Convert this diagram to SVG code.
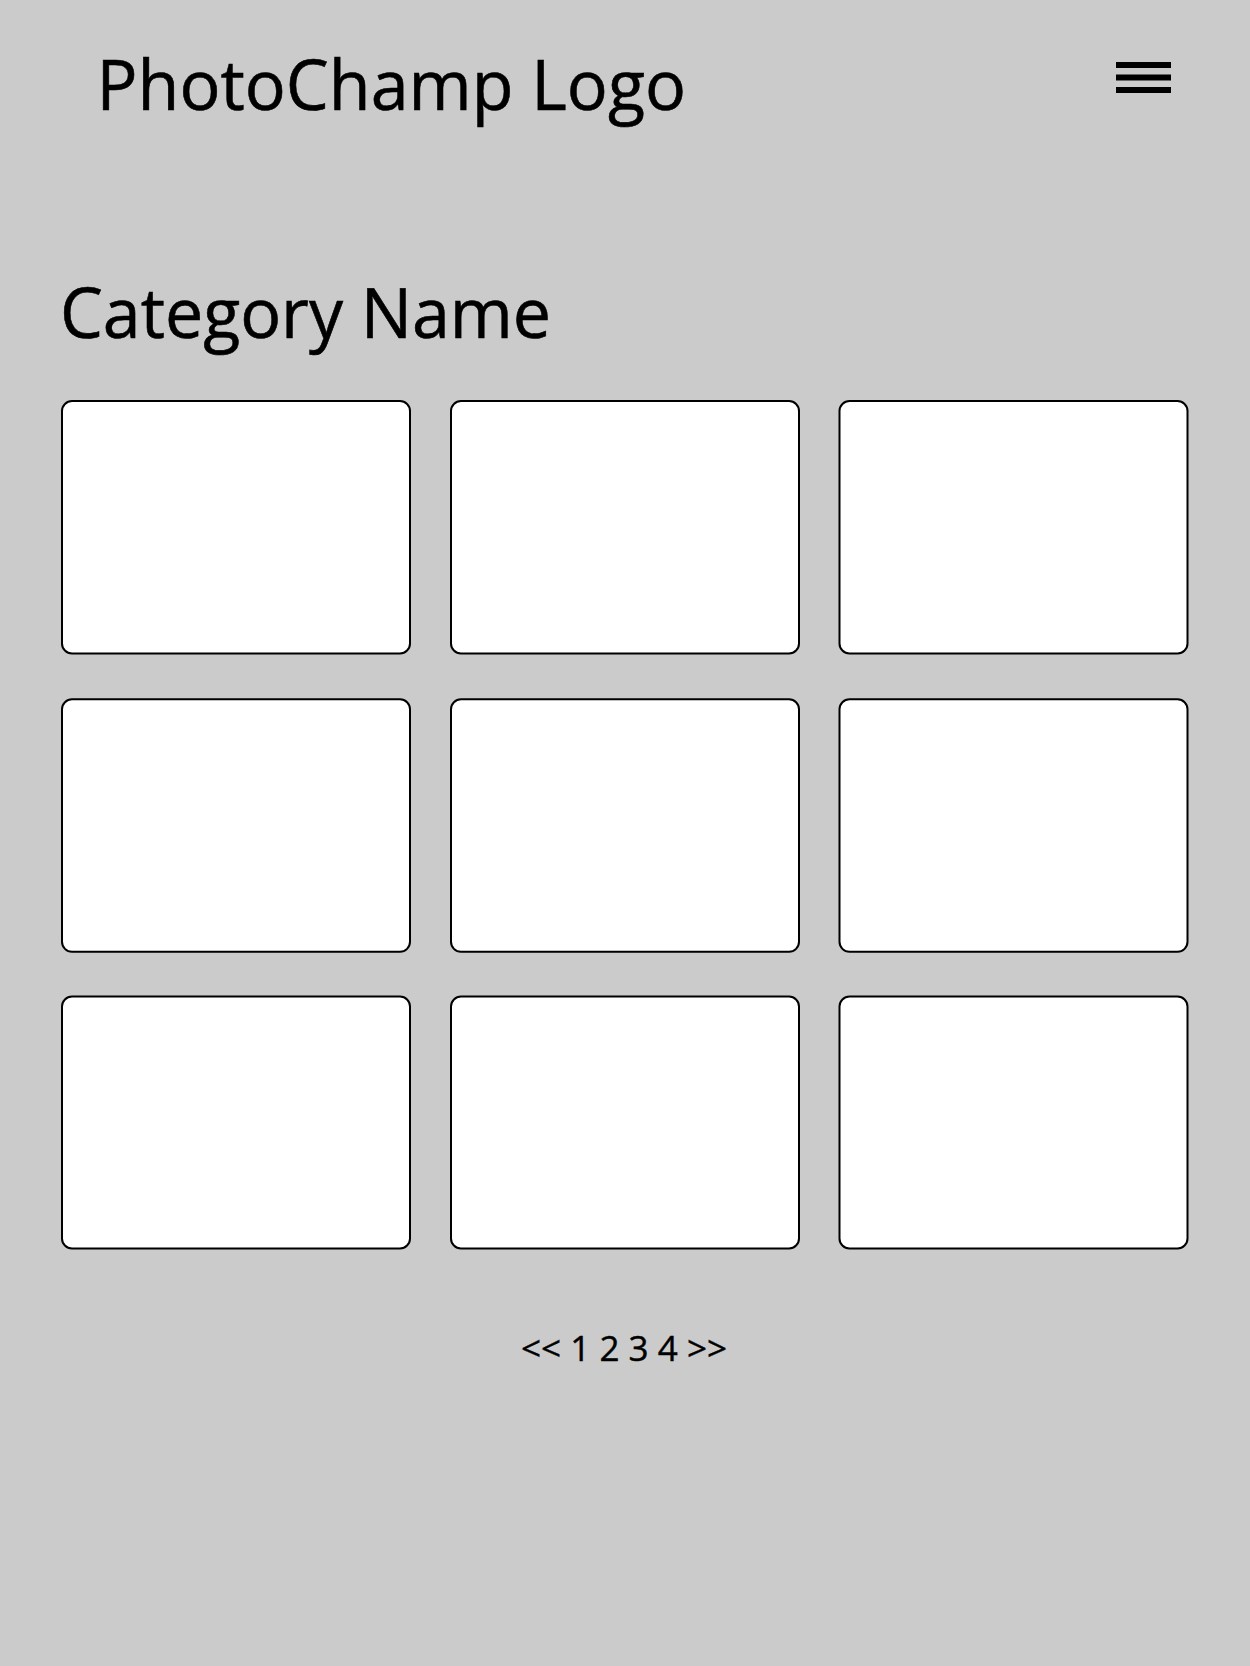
<svg xmlns="http://www.w3.org/2000/svg" width="1250" height="1666" viewBox="0 0 1250 1666">
  <style>
    .card { fill: #ffffff; stroke: #000000; stroke-width: 2; }
    .big { font-family: "Open Sans", "Liberation Sans", sans-serif; font-size: 70px; fill: #000000; stroke: #000000; stroke-width: 0.6; }
    .pg { font-family: "Open Sans", "Liberation Sans", sans-serif; font-size: 34px; fill: #000000; stroke: #000000; stroke-width: 0.4; }
    .bar { fill: #000000; }
  </style>
  <rect x="0" y="0" width="1250" height="1666" fill="#cbcbcb"/>
  <g id="logo">
    <text class="big" x="96.5" y="110" textLength="589.5" lengthAdjust="spacingAndGlyphs">PhotoChamp Logo</text>
  </g>
  <g id="menu">
    <rect class="bar" x="1116" y="62" width="55" height="6"/>
    <rect class="bar" x="1116" y="74.5" width="55" height="6"/>
    <rect class="bar" x="1116" y="87" width="55" height="6"/>
  </g>
  <g id="category-title">
    <text class="big" x="60" y="338" textLength="491" lengthAdjust="spacingAndGlyphs">Category Name</text>
  </g>
  <g id="grid">
    <rect id="card-1" class="card" x="62" y="401" width="348" height="252.5" rx="10"/>
    <rect id="card-2" class="card" x="451" y="401" width="348" height="252.5" rx="10"/>
    <rect id="card-3" class="card" x="839.5" y="401" width="348" height="252.5" rx="10"/>
    <rect id="card-4" class="card" x="62" y="699.3" width="348" height="252.5" rx="10"/>
    <rect id="card-5" class="card" x="451" y="699.3" width="348" height="252.5" rx="10"/>
    <rect id="card-6" class="card" x="839.5" y="699.3" width="348" height="252.5" rx="10"/>
    <rect id="card-7" class="card" x="62" y="996.5" width="348" height="252" rx="10"/>
    <rect id="card-8" class="card" x="451" y="996.5" width="348" height="252" rx="10"/>
    <rect id="card-9" class="card" x="839.5" y="996.5" width="348" height="252" rx="10"/>
  </g>
  <g id="pagination">
    <text class="pg" x="521" y="1361" textLength="206" lengthAdjust="spacingAndGlyphs">&lt;&lt; 1 2 3 4 &gt;&gt;</text>
  </g>
  <g id="connectors"/>
</svg>
